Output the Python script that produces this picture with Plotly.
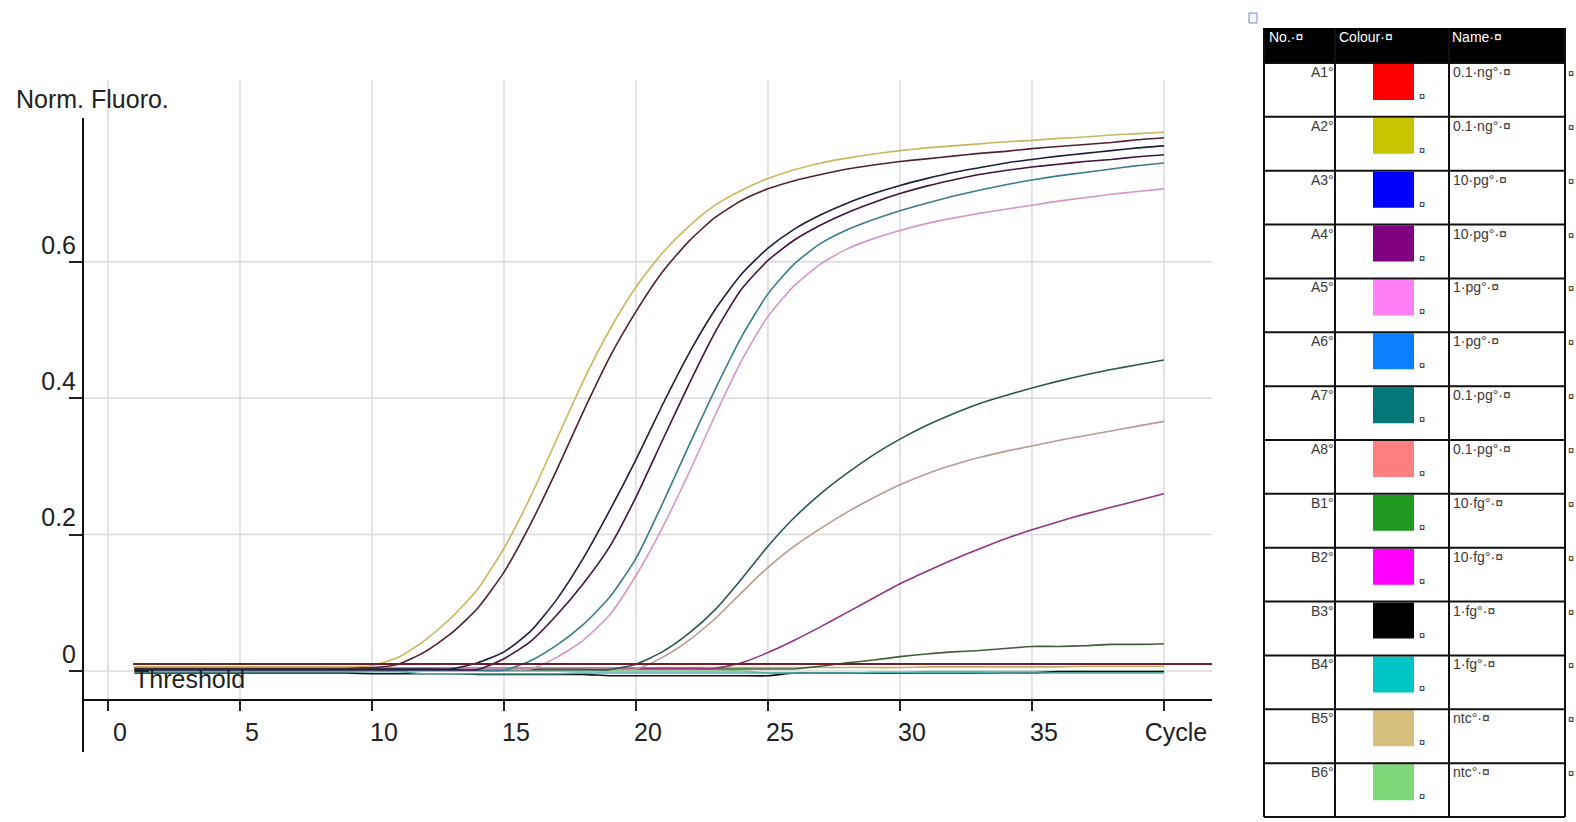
import plotly.graph_objects as go

# ---------------- data ----------------
cycles = list(range(1, 41))

A1 = [0.005]*10 + [0.010, 0.028, 0.055, 0.092, 0.145, 0.215, 0.295, 0.380, 0.460, 0.527,
                  0.585, 0.630, 0.665, 0.690, 0.707, 0.719, 0.728, 0.736, 0.742, 0.747,
                  0.751, 0.755, 0.759, 0.762, 0.766, 0.769, 0.772, 0.775, 0.779, 0.782]
A2 = [0.006]*9 + [0.008, 0.020, 0.045, 0.078, 0.120, 0.180, 0.255, 0.340, 0.425, 0.500, 0.563,
                  0.613, 0.652, 0.683, 0.705, 0.722, 0.735, 0.745, 0.752, 0.758, 0.763,
                  0.767, 0.770, 0.773, 0.776, 0.778, 0.781, 0.783, 0.786, 0.788, 0.790]
A3 = [0.003]*13 + [0.012, 0.028, 0.058, 0.105, 0.165, 0.235, 0.310, 0.390, 0.465, 0.530,
                   0.582, 0.620, 0.648, 0.669, 0.686, 0.700, 0.712, 0.722, 0.731, 0.738,
                   0.745, 0.750, 0.755, 0.759, 0.763, 0.767, 0.770]
A4 = [0.002]*14 + [0.018, 0.043, 0.082, 0.128, 0.182, 0.255, 0.338, 0.420, 0.497, 0.560,
                   0.602, 0.632, 0.654, 0.672, 0.687, 0.700, 0.711, 0.720, 0.728, 0.734,
                   0.739, 0.743, 0.747, 0.750, 0.754, 0.757]
A5 = [0.003]*16 + [0.020, 0.045, 0.082, 0.140, 0.210, 0.290, 0.375, 0.455, 0.520, 0.565,
                   0.597, 0.619, 0.634, 0.646, 0.656, 0.664, 0.671, 0.677, 0.683, 0.689,
                   0.694, 0.699, 0.703, 0.707]
A6 = [0.001]*15 + [0.015, 0.038, 0.068, 0.108, 0.165, 0.245, 0.330, 0.413, 0.490, 0.553,
                   0.597, 0.627, 0.647, 0.662, 0.675, 0.686, 0.696, 0.705, 0.713, 0.720,
                   0.726, 0.731, 0.736, 0.741, 0.745]
A7 = [0.002]*19 + [0.010, 0.028, 0.055, 0.090, 0.135, 0.183, 0.225, 0.260, 0.290, 0.317,
                   0.340, 0.360, 0.377, 0.392, 0.404, 0.415, 0.425, 0.434, 0.442, 0.449,
                   0.456]
A8 = [0.003]*20 + [0.020, 0.045, 0.077, 0.115, 0.152, 0.183, 0.209, 0.233, 0.254, 0.273,
                   0.289, 0.302, 0.313, 0.322, 0.330, 0.338, 0.345, 0.352, 0.359, 0.366]
B1 = [0.003]*26 + [0.007, 0.012, 0.016, 0.021, 0.025, 0.028, 0.030, 0.033, 0.036, 0.036,
                   0.037, 0.039, 0.039, 0.040]
B2 = [0.004]*23 + [0.012, 0.027, 0.045, 0.065, 0.086, 0.107, 0.128, 0.146, 0.163, 0.179,
                   0.194, 0.207, 0.219, 0.230, 0.240, 0.250, 0.260]
B3 = [-0.003]*9 + [-0.004]*4 + [-0.005]*5 + [-0.007]*7 + [-0.003]*10 + [-0.001]*5
B4 = [-0.001]*11 + [-0.004]*6 + [-0.003]*11 + [-0.002]*5 + [-0.003]*7
B5 = [0.004]*20 + [0.005]*10 + [0.006]*6 + [0.007]*4
B6 = [0.000]*24 + [-0.003]*6 + [-0.001]*10

THRESHOLD = 0.0103

wells = ["A1", "A2", "A3", "A4", "A5", "A6", "A7", "A8",
         "B1", "B2", "B3", "B4", "B5", "B6"]
series = [A1, A2, A3, A4, A5, A6, A7, A8, B1, B2, B3, B4, B5, B6]
swatch_colours = ["#ff0000", "#c8c400", "#0000ff", "#800080", "#ff80f4", "#0a80ff",
                  "#047878", "#ff7f7f", "#1f9a1f", "#ff00ff", "#000000", "#00c6c6",
                  "#d6be7c", "#7ed87a"]
line_colours = ["#55202e", "#c9b75a", "#1e1e3c", "#44123f", "#d596c6", "#3a7c8c",
                "#2a5656", "#b99a8c", "#3d5f36", "#953385", "#111111", "#47b2b2",
                "#c7ad6a", "#7fc07f"]
sample_names = ["0.1·ng°·¤", "0.1·ng°·¤", "10·pg°·¤", "10·pg°·¤", "1·pg°·¤", "1·pg°·¤",
                "0.1·pg°·¤", "0.1·pg°·¤", "10·fg°·¤", "10·fg°·¤", "1·fg°·¤", "1·fg°·¤",
                "ntc°·¤", "ntc°·¤"]
header = ["No.·¤", "Colour·¤", "Name·¤"]

x_ticks = [0, 5, 10, 15, 20, 25, 30, 35, 40]
x_ticktext = ["0", "5", "10", "15", "20", "25", "30", "35", "Cycle"]
y_ticks = [0, 0.2, 0.4, 0.6]
y_ticktext = ["0", "0.2", "0.4", "0.6"]

# ---------------- layout geometry ----------------
W, H = 1576, 822
L, R, T, B = 83, 1212, 80, 752
X_RANGE = [-0.947, 41.82]
Y_RANGE = [-0.1188, 0.8666]
X_AXIS_Y = -0.0425
Y_AXIS_TOP = 0.8109
FONT = "Liberation Sans, Arial, sans-serif"


def xp(px):
    return (px - L) / (R - L)


def yp(py):
    return (B - py) / (B - T)


fig = go.Figure()

order = [12, 13, 10, 11, 8, 9, 7, 6, 4, 5, 3, 2, 0, 1]
for i in order:
    fig.add_trace(go.Scatter(
        x=cycles, y=series[i], mode="lines", name=wells[i],
        line=dict(color=line_colours[i], width=1.6, shape="spline", smoothing=0.6),
        showlegend=False, hoverinfo="x+y+name"))

shapes = []
# grid
for xv in x_ticks:
    shapes.append(dict(type="line", xref="x", yref="y", x0=xv, x1=xv,
                       y0=X_AXIS_Y, y1=Y_RANGE[1], layer="below",
                       line=dict(color="#dadada", width=1.5)))
for yv in y_ticks:
    shapes.append(dict(type="line", xref="paper", yref="y", x0=0, x1=1,
                       y0=yv, y1=yv, layer="below",
                       line=dict(color="#dadada", width=1.5)))
# y axis line
shapes.append(dict(type="line", xref="paper", yref="y", x0=0, x1=0,
                   y0=Y_RANGE[0], y1=Y_AXIS_TOP, line=dict(color="#111", width=2)))
# threshold
shapes.append(dict(type="line", xref="x", yref="y", x0=0.95, x1=X_RANGE[1],
                   y0=THRESHOLD, y1=THRESHOLD, line=dict(color="#6e1f2c", width=2)))

annotations = [
    dict(text="Norm. Fluoro.", x=xp(14), y=yp(99), xref="paper", yref="paper",
         xanchor="left", yanchor="middle", showarrow=False,
         font=dict(family=FONT, size=25, color="#222")),
    dict(text="Threshold", x=xp(132), y=yp(679), xref="paper", yref="paper",
         xanchor="left", yanchor="middle", showarrow=False,
         font=dict(family=FONT, size=25, color="#222")),
]

# ---------------- table ----------------
TX0, TX1 = 1264, 1565
COLS = [1264, 1335, 1449, 1565]
HEAD_TOP, HEAD_BOT = 28, 63
ROW_H = (817 - HEAD_BOT) / len(wells)
TFONT = dict(family=FONT, size=14, color="#3a3a3a")

shapes.append(dict(type="rect", xref="paper", yref="paper",
                   x0=xp(TX0), x1=xp(TX1), y0=yp(HEAD_TOP), y1=yp(HEAD_BOT),
                   fillcolor="#000", line=dict(width=0)))
for cx, txt in zip([1267, 1337, 1450], header):
    annotations.append(dict(text=txt, x=xp(cx), y=yp(37), xref="paper", yref="paper",
                            xanchor="left", yanchor="middle", showarrow=False,
                            font=dict(family=FONT, size=14, color="#fff")))
for i, well in enumerate(wells):
    top = HEAD_BOT + i * ROW_H
    shapes.append(dict(type="rect", xref="paper", yref="paper",
                       x0=xp(1373), x1=xp(1414), y0=yp(top + 1), y1=yp(top + 37),
                       fillcolor=swatch_colours[i], line=dict(width=0)))
    annotations.append(dict(text=well + "°", x=xp(1336), y=yp(top + 9), xref="paper",
                            yref="paper", xanchor="right", yanchor="middle",
                            showarrow=False, font=TFONT))
    annotations.append(dict(text=sample_names[i], x=xp(1451), y=yp(top + 9),
                            xref="paper", yref="paper", xanchor="left",
                            yanchor="middle", showarrow=False, font=TFONT))
    annotations.append(dict(text="¤", x=xp(1417), y=yp(top + 33), xref="paper",
                            yref="paper", xanchor="left", yanchor="middle",
                            showarrow=False,
                            font=dict(family=FONT, size=11, color="#222")))
    annotations.append(dict(text="¤", x=xp(1566), y=yp(top + 10), xref="paper",
                            yref="paper", xanchor="left", yanchor="middle",
                            showarrow=False,
                            font=dict(family=FONT, size=11, color="#222")))
# table grid lines
for k in range(len(wells) + 1):
    yy = HEAD_BOT + k * ROW_H
    shapes.append(dict(type="line", xref="paper", yref="paper",
                       x0=xp(TX0), x1=xp(TX1), y0=yp(yy), y1=yp(yy),
                       line=dict(color="#111", width=2)))
for cx in COLS:
    shapes.append(dict(type="line", xref="paper", yref="paper",
                       x0=xp(cx), x1=xp(cx), y0=yp(HEAD_TOP), y1=yp(817),
                       line=dict(color="#111", width=2)))
# small table handle icon
shapes.append(dict(type="rect", xref="paper", yref="paper",
                   x0=xp(1249), x1=xp(1257), y0=yp(13), y1=yp(23),
                   line=dict(color="#6f8fc4", width=1), fillcolor="#f4f7fc"))

fig.update_layout(
    width=W, height=H, autosize=False,
    margin=dict(l=L, r=W - R, t=T, b=H - B, pad=0),
    paper_bgcolor="#fff", plot_bgcolor="#fff",
    shapes=shapes, annotations=annotations,
    xaxis=dict(range=X_RANGE, anchor="free", position=yp(700),
               tickvals=x_ticks, ticktext=x_ticktext, ticks="outside",
               ticklen=10, tickwidth=2, tickcolor="#222",
               showline=True, linecolor="#111", linewidth=2,
               showgrid=False, zeroline=False, ticklabelshift=12,
               tickfont=dict(family=FONT, size=25, color="#222")),
    yaxis=dict(range=Y_RANGE, tickvals=y_ticks, ticktext=y_ticktext,
               ticks="outside", ticklen=13, tickwidth=2, tickcolor="#222",
               showline=False, showgrid=False, zeroline=False,
               ticklabelshift=-17, ticklabelstandoff=-12,
               tickfont=dict(family=FONT, size=25, color="#222")),
)

fig.write_html("out.html")
